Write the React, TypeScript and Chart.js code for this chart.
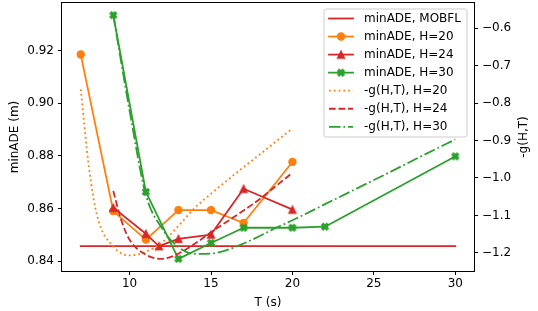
import React, { useEffect, useRef } from 'react';
import { Chart, registerables } from 'chart.js';

Chart.register(...registerables);

// ---- data ----
const MOBFL_T = [7, 30];
const MOBFL_ADE = [0.8457, 0.8457];

const H20_T = [7, 9, 11, 13, 15, 17, 20];
const H20_ADE = [0.9185, 0.859, 0.8482, 0.8594, 0.8594, 0.8545, 0.8777];

const H24_T = [9, 11, 11.8, 13, 15, 17, 20];
const H24_ADE = [0.8603, 0.8504, 0.8457, 0.8485, 0.8501, 0.8675, 0.8596];

const H30_T = [9, 11, 13, 15, 17, 20, 22, 30];
const H30_ADE = [0.9334, 0.8663, 0.8409, 0.8469, 0.8527, 0.8527, 0.8531, 0.8798];

const G20_T = [7, 7.5, 8, 9, 10, 11, 12, 13, 14, 15, 16, 17, 18, 19, 20];
const G20_VAL = [-0.763, -0.97, -1.1, -1.183, -1.207, -1.197, -1.172, -1.128, -1.08, -1.042, -1.006, -0.971, -0.937, -0.902, -0.868];

const G24_T = [9, 9.5, 10, 11, 12, 13, 14, 15, 16, 17, 18, 19, 20];
const G24_VAL = [-1.035, -1.114, -1.165, -1.205, -1.216, -1.202, -1.176, -1.145, -1.116, -1.087, -1.056, -1.021, -0.986];

const G30_T = [9, 10, 11, 12, 13, 14, 15, 16, 17, 18, 19, 20, 22, 24, 26, 28, 30];
const G30_VAL = [-0.565, -0.82, -1.045, -1.135, -1.185, -1.203, -1.202, -1.192, -1.175, -1.155, -1.133, -1.113, -1.07, -1.027, -0.984, -0.94, -0.897];

const X_TICKS = [10, 15, 20, 25, 30];
const LEFT_TICKS = [0.84, 0.86, 0.88, 0.9, 0.92];
const RIGHT_TICKS = [-1.2, -1.1, -1.0, -0.9, -0.8, -0.7, -0.6];

const LABELS = [
  'minADE, MOBFL',
  'minADE, H=20',
  'minADE, H=24',
  'minADE, H=30',
  '-g(H,T), H=20',
  '-g(H,T), H=24',
  '-g(H,T), H=30',
];

const ORANGE = '#ff7f0e';
const RED = '#d62728';
const GREEN = '#2ca02c';
const FONT = '"DejaVu Sans", sans-serif';

const LW = 1.8;
const DOTTED = [1.8, 2.97];
const DASHED = [6.66, 2.88];
const DASHDOT = [11.52, 2.88, 1.8, 2.88];

function pts(xs: number[], ys: number[]) {
  return xs.map((x, i) => ({ x, y: ys[i] }));
}

function padRange(vals: number[]) {
  const mn = Math.min(...vals);
  const mx = Math.max(...vals);
  const p = (mx - mn) * 0.05;
  return { min: mn - p, max: mx + p };
}

function makeMarker(kind: 'tri' | 'x', color: string): HTMLCanvasElement {
  const size = 14;
  const c = document.createElement('canvas');
  c.width = size;
  c.height = size;
  const ctx = c.getContext('2d')!;
  ctx.translate(size / 2, size / 2);
  ctx.fillStyle = color;
  ctx.strokeStyle = color;
  ctx.lineWidth = 1.2;
  ctx.lineJoin = 'miter';
  ctx.beginPath();
  if (kind === 'tri') {
    const s = 3.6;
    ctx.moveTo(0, -s);
    ctx.lineTo(-s, s);
    ctx.lineTo(s, s);
    ctx.closePath();
  } else {
    const s = 7.2;
    const raw = [
      [-1, -3], [1, -3], [1, -1], [3, -1], [3, 1], [1, 1],
      [1, 3], [-1, 3], [-1, 1], [-3, 1], [-3, -1], [-1, -1],
    ];
    const a = Math.PI / 4;
    raw.forEach(([px, py], i) => {
      const x = (px / 6) * s;
      const y = (py / 6) * s;
      const rx = x * Math.cos(a) - y * Math.sin(a);
      const ry = x * Math.sin(a) + y * Math.cos(a);
      if (i === 0) ctx.moveTo(rx, ry);
      else ctx.lineTo(rx, ry);
    });
    ctx.closePath();
  }
  ctx.fill();
  ctx.stroke();
  return c;
}

function zeroPad(s: any) {
  s.paddingTop = 0;
  s.paddingBottom = 0;
  s.paddingLeft = 0;
  s.paddingRight = 0;
}

export default function App() {
  const ref = useRef<HTMLCanvasElement | null>(null);

  useEffect(() => {
    document.body.style.margin = '0';
    const canvas = ref.current;
    if (!canvas) return;

    const triMarker = makeMarker('tri', RED);
    const xMarker = makeMarker('x', GREEN);

    const leftRange = padRange([...MOBFL_ADE, ...H20_ADE, ...H24_ADE, ...H30_ADE]);
    const rightRange = padRange([...G20_VAL, ...G24_VAL, ...G30_VAL]);
    const xRange = padRange([...MOBFL_T, ...H20_T, ...H24_T, ...H30_T, ...G20_T, ...G24_T, ...G30_T]);

    const solidBase = {
      borderWidth: LW,
      borderCapStyle: 'square' as const,
      borderJoinStyle: 'round' as const,
      fill: false,
      tension: 0,
    };
    const curveBase = {
      borderWidth: LW,
      borderCapStyle: 'butt' as const,
      fill: false,
      pointRadius: 0,
      pointHoverRadius: 0,
      cubicInterpolationMode: 'monotone' as const,
      yAxisID: 'y1',
    };

    const datasets: any[] = [
      { ...solidBase, label: LABELS[0], data: pts(MOBFL_T, MOBFL_ADE), borderColor: RED, pointRadius: 0, yAxisID: 'y', order: 7 },
      { ...solidBase, label: LABELS[1], data: pts(H20_T, H20_ADE), borderColor: ORANGE, backgroundColor: ORANGE, pointStyle: 'circle', pointRadius: 3.6, pointBorderWidth: 1.2, pointBackgroundColor: ORANGE, pointBorderColor: ORANGE, yAxisID: 'y', order: 6 },
      { ...solidBase, label: LABELS[2], data: pts(H24_T, H24_ADE), borderColor: RED, backgroundColor: RED, pointStyle: triMarker, pointRadius: 4, yAxisID: 'y', order: 5 },
      { ...solidBase, label: LABELS[3], data: pts(H30_T, H30_ADE), borderColor: GREEN, backgroundColor: GREEN, pointStyle: xMarker, pointRadius: 4, yAxisID: 'y', order: 4 },
      { ...curveBase, label: LABELS[4], data: pts(G20_T, G20_VAL), borderColor: ORANGE, borderDash: DOTTED, order: 3 },
      { ...curveBase, label: LABELS[5], data: pts(G24_T, G24_VAL), borderColor: RED, borderDash: DASHED, order: 2 },
      { ...curveBase, label: LABELS[6], data: pts(G30_T, G30_VAL), borderColor: GREEN, borderDash: DASHDOT, order: 1 },
    ];

    const legendStyles = [
      { color: RED, dash: [] as number[], marker: null as any },
      { color: ORANGE, dash: [], marker: 'circle' },
      { color: RED, dash: [], marker: triMarker },
      { color: GREEN, dash: [], marker: xMarker },
      { color: ORANGE, dash: DOTTED, marker: null },
      { color: RED, dash: DASHED, marker: null },
      { color: GREEN, dash: DASHDOT, marker: null },
    ];

    const decor = {
      id: 'decor',
      afterDatasetsDraw(chart: any) {
        const { ctx, chartArea: a } = chart;
        ctx.save();
        ctx.strokeStyle = '#000';
        ctx.lineWidth = 1;
        ctx.strokeRect(Math.round(a.left) - 0.5, Math.round(a.top) - 0.5, Math.round(a.right - a.left) + 1, Math.round(a.bottom - a.top) + 1);
        ctx.restore();
      },
      afterDraw(chart: any) {
        const { ctx, chartArea: a } = chart;
        ctx.save();
        ctx.fillStyle = '#000';
        ctx.font = '12px ' + FONT;
        const cy = (a.top + a.bottom) / 2;
        // axis titles
        ctx.textAlign = 'center';
        ctx.textBaseline = 'alphabetic';
        ctx.save();
        ctx.translate(18, cy);
        ctx.rotate(-Math.PI / 2);
        ctx.fillText('minADE (m)', 0, 0);
        ctx.restore();
        ctx.save();
        ctx.translate(527, cy);
        ctx.rotate(-Math.PI / 2);
        ctx.fillText('-g(H,T)', 0, 0);
        ctx.restore();
        ctx.fillText('T (s)', (a.left + a.right) / 2, 305.5);

        // legend
        const bx = 324, by = 9, bw = 143, bh = 128, r = 2.4;
        ctx.beginPath();
        ctx.moveTo(bx + r, by);
        ctx.lineTo(bx + bw - r, by);
        ctx.arcTo(bx + bw, by, bx + bw, by + r, r);
        ctx.lineTo(bx + bw, by + bh - r);
        ctx.arcTo(bx + bw, by + bh, bx + bw - r, by + bh, r);
        ctx.lineTo(bx + r, by + bh);
        ctx.arcTo(bx, by + bh, bx, by + bh - r, r);
        ctx.lineTo(bx, by + r);
        ctx.arcTo(bx, by, bx + r, by, r);
        ctx.closePath();
        ctx.fillStyle = 'rgba(255,255,255,0.8)';
        ctx.fill();
        ctx.strokeStyle = '#cccccc';
        ctx.lineWidth = 1;
        ctx.stroke();

        const x0 = 329, x1 = 353, tx = 364;
        LABELS.forEach((lab, i) => {
          const y = 18.5 + i * 18.05;
          const st = legendStyles[i];
          ctx.save();
          ctx.strokeStyle = st.color;
          ctx.lineWidth = LW;
          ctx.setLineDash(st.dash);
          ctx.lineCap = st.dash.length ? 'butt' : 'square';
          ctx.beginPath();
          ctx.moveTo(x0, y);
          ctx.lineTo(x1, y);
          ctx.stroke();
          ctx.restore();
          const mx = (x0 + x1) / 2;
          if (st.marker === 'circle') {
            ctx.beginPath();
            ctx.arc(mx, y, 3.6, 0, Math.PI * 2);
            ctx.fillStyle = st.color;
            ctx.fill();
            ctx.strokeStyle = st.color;
            ctx.lineWidth = 1.2;
            ctx.stroke();
          } else if (st.marker) {
            const m = st.marker as HTMLCanvasElement;
            ctx.drawImage(m, mx - m.width / 2, y - m.height / 2);
          }
          ctx.fillStyle = '#000';
          ctx.textAlign = 'left';
          ctx.textBaseline = 'middle';
          ctx.fillText(lab, tx, y);
        });
        ctx.restore();
      },
    };

    const tickFont = { family: FONT, size: 12 };
    const gridOpts = { display: true, drawOnChartArea: false, drawTicks: true, tickLength: 4, color: '#000', lineWidth: 1 };

    const chart = new Chart(canvas, {
      type: 'line',
      data: { datasets },
      options: {
        animation: false,
        responsive: false,
        maintainAspectRatio: false,
        layout: { autoPadding: false, padding: { top: 3, left: 0, right: 0, bottom: 0 } },
        plugins: { legend: { display: false }, tooltip: { enabled: false } },
        scales: {
          x: {
            type: 'linear',
            position: 'bottom',
            min: xRange.min,
            max: xRange.max,
            grid: gridOpts,
            border: { display: false },
            afterBuildTicks: (s: any) => { s.ticks = X_TICKS.map((v) => ({ value: v })); },
            afterFit: (s: any) => { s.height = 40; zeroPad(s); },
            ticks: { font: tickFont, color: '#000', padding: 2, maxRotation: 0, autoSkip: false, callback: (v: any) => String(v) },
          },
          y: {
            type: 'linear',
            position: 'left',
            min: leftRange.min,
            max: leftRange.max,
            grid: gridOpts,
            border: { display: false },
            afterBuildTicks: (s: any) => { s.ticks = LEFT_TICKS.map((v) => ({ value: v })); },
            afterFit: (s: any) => { s.width = 62; zeroPad(s); },
            ticks: { font: tickFont, color: '#000', padding: 4, autoSkip: false, callback: (v: any) => Number(v).toFixed(2) },
          },
          y1: {
            type: 'linear',
            position: 'right',
            min: rightRange.min,
            max: rightRange.max,
            grid: gridOpts,
            border: { display: false },
            afterBuildTicks: (s: any) => { s.ticks = RIGHT_TICKS.map((v) => ({ value: v })); },
            afterFit: (s: any) => { s.width = 64; zeroPad(s); },
            ticks: { font: tickFont, color: '#000', padding: 4, autoSkip: false, callback: (v: any) => Number(v).toFixed(1).replace('-', '\u2212') },
          },
        },
      },
      plugins: [decor],
    });

    return () => chart.destroy();
  }, []);

  return (
    <div style={{ width: 538, height: 311, position: 'relative' }}>
      <canvas ref={ref} width={538} height={311} style={{ display: 'block', width: 538, height: 311 }} />
    </div>
  );
}
